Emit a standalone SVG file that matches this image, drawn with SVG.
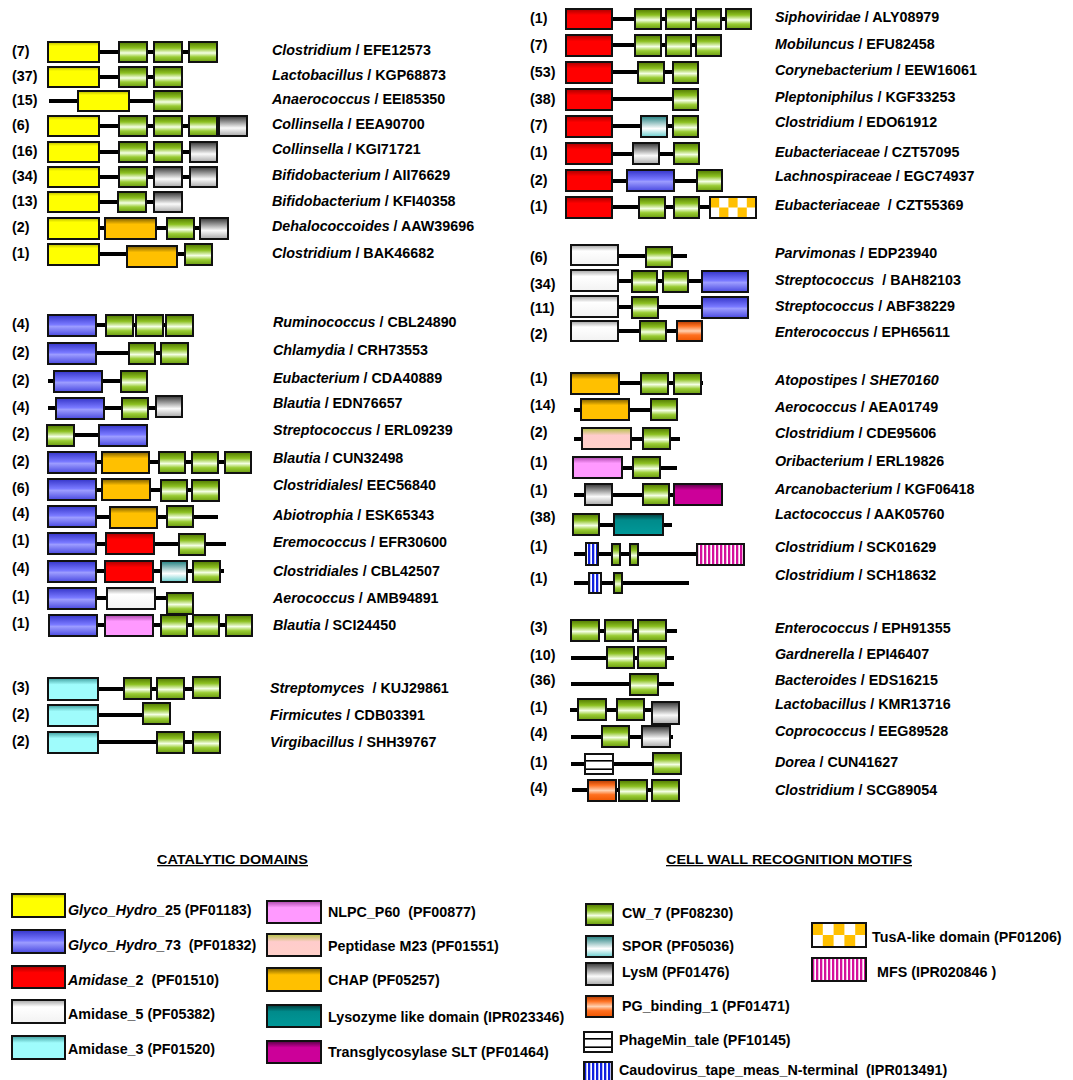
<svg xmlns="http://www.w3.org/2000/svg" width="1073" height="1080" viewBox="0 0 1073 1080">
<defs>
<linearGradient id="gY" x1="0" y1="0" x2="0" y2="1"><stop offset="0" stop-color="#b8b800"/><stop offset="0.2" stop-color="#ffff00"/><stop offset="1" stop-color="#ffff00"/></linearGradient>
<linearGradient id="gB" x1="0" y1="0" x2="0" y2="1"><stop offset="0" stop-color="#3434c8"/><stop offset="0.45" stop-color="#7878ff"/><stop offset="0.55" stop-color="#9c9cff"/><stop offset="1" stop-color="#4848e0"/></linearGradient>
<linearGradient id="gR" x1="0" y1="0" x2="0" y2="1"><stop offset="0" stop-color="#a80000"/><stop offset="0.3" stop-color="#ff0000"/><stop offset="1" stop-color="#ff0000"/></linearGradient>
<linearGradient id="gW" x1="0" y1="0" x2="0" y2="1"><stop offset="0" stop-color="#a0a0a0"/><stop offset="0.3" stop-color="#ffffff"/><stop offset="1" stop-color="#f2f2f2"/></linearGradient>
<linearGradient id="gC" x1="0" y1="0" x2="0" y2="1"><stop offset="0" stop-color="#3c9c9c"/><stop offset="0.3" stop-color="#9ffcfc"/><stop offset="1" stop-color="#9ffcfc"/></linearGradient>
<linearGradient id="gG" x1="0" y1="0" x2="0" y2="1"><stop offset="0" stop-color="#4f7700"/><stop offset="0.3" stop-color="#8cc020"/><stop offset="0.55" stop-color="#f4ffe4"/><stop offset="0.75" stop-color="#99cc33"/><stop offset="1" stop-color="#6a9a10"/></linearGradient>
<linearGradient id="gL" x1="0" y1="0" x2="0" y2="1"><stop offset="0" stop-color="#333333"/><stop offset="0.6" stop-color="#fafafa"/><stop offset="1" stop-color="#a8a8a8"/></linearGradient>
<linearGradient id="gS" x1="0" y1="0" x2="0" y2="1"><stop offset="0" stop-color="#1f7f7f"/><stop offset="0.6" stop-color="#ffffff"/><stop offset="1" stop-color="#66cccc"/></linearGradient>
<linearGradient id="gO" x1="0" y1="0" x2="0" y2="1"><stop offset="0" stop-color="#7a5c00"/><stop offset="0.3" stop-color="#ffc000"/><stop offset="1" stop-color="#ffc000"/></linearGradient>
<linearGradient id="gP" x1="0" y1="0" x2="0" y2="1"><stop offset="0" stop-color="#b0c040"/><stop offset="0.35" stop-color="#ffcccc"/><stop offset="1" stop-color="#ffd0c8"/></linearGradient>
<linearGradient id="gN" x1="0" y1="0" x2="0" y2="1"><stop offset="0" stop-color="#aa44aa"/><stop offset="0.3" stop-color="#ff99ff"/><stop offset="1" stop-color="#ff99ff"/></linearGradient>
<linearGradient id="gT" x1="0" y1="0" x2="0" y2="1"><stop offset="0" stop-color="#003a3a"/><stop offset="0.3" stop-color="#008b8b"/><stop offset="1" stop-color="#009999"/></linearGradient>
<linearGradient id="gM" x1="0" y1="0" x2="0" y2="1"><stop offset="0" stop-color="#550044"/><stop offset="0.3" stop-color="#cc0099"/><stop offset="1" stop-color="#cc0099"/></linearGradient>
<linearGradient id="gPG" x1="0" y1="0" x2="0" y2="1"><stop offset="0" stop-color="#b03800"/><stop offset="0.25" stop-color="#ff7020"/><stop offset="0.5" stop-color="#ffd0b0"/><stop offset="0.7" stop-color="#ff7020"/><stop offset="1" stop-color="#ee5500"/></linearGradient>
<pattern id="pTus" patternUnits="objectBoundingBox" patternContentUnits="objectBoundingBox" width="1" height="1">
<rect x="0" y="0" width="1" height="1" fill="#ffffff"/>
<rect x="0" y="0" width="0.2" height="0.5" fill="#ffc000"/><rect x="0.4" y="0" width="0.2" height="0.5" fill="#ffc000"/><rect x="0.8" y="0" width="0.2" height="0.5" fill="#ffc000"/>
<rect x="0.2" y="0.5" width="0.2" height="0.5" fill="#ffc000"/><rect x="0.6" y="0.5" width="0.2" height="0.5" fill="#ffc000"/>
</pattern>
<pattern id="pMFS" patternUnits="userSpaceOnUse" width="4" height="10"><rect width="4" height="10" fill="#ffffff"/><rect width="2.3" height="10" fill="#d4109c"/></pattern>
<pattern id="pCau" patternUnits="userSpaceOnUse" width="4" height="10"><rect width="4" height="10" fill="#ffffff"/><rect width="2.3" height="10" fill="#1020e0"/></pattern>
<pattern id="pPh" patternUnits="objectBoundingBox" patternContentUnits="objectBoundingBox" width="1" height="1"><rect width="1" height="1" fill="#ffffff"/><rect x="0" y="0.3" width="1" height="0.08" fill="#000"/><rect x="0" y="0.72" width="1" height="0.08" fill="#000"/></pattern>
</defs>
<style>
.ln{stroke:#000;stroke-width:4}
g rect{stroke:#111;stroke-width:2}
.Y{fill:url(#gY)} .B{fill:url(#gB)} .R{fill:url(#gR)} .W{fill:url(#gW)} .C{fill:url(#gC)} .G{fill:url(#gG)} .L{fill:url(#gL)} .S{fill:url(#gS)} .O{fill:url(#gO)} .P{fill:url(#gP)} .N{fill:url(#gN)} .T{fill:url(#gT)} .M{fill:url(#gM)} .PG{fill:url(#gPG)}
.Tu{fill:url(#pTus)} .MF{fill:url(#pMFS)} .Ca{fill:url(#pCau)} .Ph{fill:url(#pPh)}
text{font-family:"Liberation Sans",Arial,sans-serif;font-weight:bold;font-size:14.3px;fill:#000;white-space:pre}
.i{font-style:italic}
.hd{text-decoration:underline;font-size:13px}
</style>
<rect x="0" y="0" width="1073" height="1080" fill="#ffffff"/>

<!-- Yellow group -->
<g id="y1"><text x="12" y="56">(7)</text><line class="ln" x1="99" y1="52" x2="217" y2="52"/><rect class="Y" x="48" y="42" width="51" height="20"/><rect class="G" x="119" y="42" width="28" height="20"/><rect class="G" x="154" y="42" width="28" height="20"/><rect class="G" x="189" y="42" width="28" height="20"/><text x="272" y="55"><tspan class="i">Clostridium</tspan> / EFE12573</text></g>
<g id="y2"><text x="12" y="81">(37)</text><line class="ln" x1="99" y1="77" x2="182" y2="77"/><rect class="Y" x="48" y="67" width="51" height="20"/><rect class="G" x="119" y="67" width="28" height="20"/><rect class="G" x="154" y="67" width="28" height="20"/><text x="272" y="80"><tspan class="i">Lactobacillus</tspan> / KGP68873</text></g>
<g id="y3"><text x="12" y="105">(15)</text><line class="ln" x1="49" y1="101" x2="182" y2="101"/><rect class="Y" x="78" y="91" width="51" height="20"/><rect class="G" x="154" y="91" width="28" height="20"/><text x="272" y="104"><tspan class="i">Anaerococcus</tspan> / EEI85350</text></g>
<g id="y4"><text x="12" y="130">(6)</text><line class="ln" x1="99" y1="126" x2="247" y2="126"/><rect class="Y" x="48" y="116" width="51" height="20"/><rect class="G" x="119" y="116" width="28" height="20"/><rect class="G" x="154" y="116" width="28" height="20"/><rect class="G" x="189" y="116" width="28" height="20"/><rect class="L" x="219" y="116" width="28" height="20"/><text x="272" y="129"><tspan class="i">Collinsella</tspan> / EEA90700</text></g>
<g id="y5"><text x="12" y="156">(16)</text><line class="ln" x1="99" y1="152" x2="217" y2="152"/><rect class="Y" x="48" y="142" width="51" height="20"/><rect class="G" x="119" y="142" width="28" height="20"/><rect class="G" x="154" y="142" width="28" height="20"/><rect class="L" x="190" y="142" width="27" height="20"/><text x="272" y="154"><tspan class="i">Collinsella</tspan> / KGI71721</text></g>
<g id="y6"><text x="12" y="181">(34)</text><line class="ln" x1="99" y1="177" x2="217" y2="177"/><rect class="Y" x="48" y="167" width="51" height="20"/><rect class="G" x="119" y="167" width="28" height="20"/><rect class="L" x="154" y="167" width="28" height="20"/><rect class="L" x="190" y="167" width="27" height="20"/><text x="272" y="180"><tspan class="i">Bifidobacterium</tspan> / AII76629</text></g>
<g id="y7"><text x="12" y="206">(13)</text><line class="ln" x1="99" y1="202" x2="182" y2="202"/><rect class="Y" x="48" y="192" width="51" height="20"/><rect class="G" x="118" y="192" width="28" height="20"/><rect class="L" x="154" y="192" width="28" height="20"/><text x="272" y="206"><tspan class="i">Bifidobacterium</tspan> / KFI40358</text></g>
<g id="y8"><text x="12" y="232">(2)</text><line class="ln" x1="99" y1="228" x2="228" y2="228"/><rect class="Y" x="48" y="218" width="51" height="21"/><rect class="O" x="105" y="218" width="51" height="21"/><rect class="G" x="167" y="218" width="27" height="21"/><rect class="L" x="200" y="218" width="28" height="21"/><text x="272" y="231"><tspan class="i">Dehalococcoides</tspan> / AAW39696</text></g>
<g id="y9"><text x="12" y="258">(1)</text><line class="ln" x1="99" y1="254" x2="212" y2="254"/><rect class="Y" x="48" y="244" width="51" height="21"/><rect class="O" x="127" y="246" width="50" height="21"/><rect class="G" x="185" y="244" width="27" height="21"/><text x="272" y="258"><tspan class="i">Clostridium</tspan> / BAK46682</text></g>

<!-- Blue group -->
<g id="b1"><text x="12" y="329">(4)</text><line class="ln" x1="96" y1="325" x2="193" y2="325"/><rect class="B" x="48" y="315" width="48" height="21"/><rect class="G" x="106" y="315" width="27" height="21"/><rect class="G" x="136" y="315" width="27" height="21"/><rect class="G" x="166" y="315" width="27" height="21"/><text x="273" y="327"><tspan class="i">Ruminococcus</tspan> / CBL24890</text></g>
<g id="b2"><text x="12" y="357">(2)</text><line class="ln" x1="96" y1="353" x2="188" y2="353"/><rect class="B" x="48" y="343" width="48" height="21"/><rect class="G" x="129" y="343" width="26" height="21"/><rect class="G" x="161" y="343" width="27" height="21"/><text x="273" y="355"><tspan class="i">Chlamydia</tspan> / CRH73553</text></g>
<g id="b3"><text x="12" y="385">(2)</text><line class="ln" x1="48" y1="381" x2="147" y2="381"/><rect class="B" x="54" y="371" width="48" height="21"/><rect class="G" x="121" y="371" width="26" height="21"/><text x="273" y="383"><tspan class="i">Eubacterium</tspan> / CDA40889</text></g>
<g id="b4"><text x="12" y="412">(4)</text><line class="ln" x1="48" y1="408" x2="182" y2="408"/><rect class="B" x="56" y="398" width="48" height="21"/><rect class="G" x="122" y="398" width="26" height="21"/><rect class="L" x="156" y="396" width="26" height="21"/><text x="273" y="408"><tspan class="i">Blautia</tspan> / EDN76657</text></g>
<g id="b5"><text x="12" y="438">(2)</text><line class="ln" x1="74" y1="435" x2="99" y2="435"/><rect class="G" x="47" y="425" width="27" height="21"/><rect class="B" x="99" y="425" width="48" height="21"/><text x="273" y="435"><tspan class="i">Streptococcus</tspan> / ERL09239</text></g>
<g id="b6"><text x="12" y="466">(2)</text><line class="ln" x1="96" y1="462" x2="251" y2="462"/><rect class="B" x="48" y="452" width="48" height="21"/><rect class="O" x="102" y="452" width="47" height="21"/><rect class="G" x="159" y="452" width="26" height="21"/><rect class="G" x="192" y="452" width="26" height="21"/><rect class="G" x="225" y="452" width="26" height="21"/><text x="273" y="463"><tspan class="i">Blautia</tspan> / CUN32498</text></g>
<g id="b7"><text x="12" y="493">(6)</text><line class="ln" x1="96" y1="490" x2="219" y2="490"/><rect class="B" x="48" y="479" width="48" height="21"/><rect class="O" x="102" y="479" width="48" height="21"/><rect class="G" x="161" y="480" width="26" height="21"/><rect class="G" x="192" y="480" width="27" height="21"/><text x="273" y="490"><tspan class="i">Clostridiales</tspan>/ EEC56840</text></g>
<g id="b8"><text x="12" y="518">(4)</text><line class="ln" x1="96" y1="517" x2="218" y2="517"/><rect class="B" x="48" y="506" width="48" height="21"/><rect class="O" x="110" y="507" width="47" height="21"/><rect class="G" x="167" y="506" width="26" height="21"/><text x="273" y="520"><tspan class="i">Abiotrophia</tspan> / ESK65343</text></g>
<g id="b9"><text x="12" y="545">(1)</text><line class="ln" x1="96" y1="544" x2="226" y2="544"/><rect class="B" x="48" y="533" width="48" height="21"/><rect class="R" x="106" y="533" width="48" height="21"/><rect class="G" x="179" y="534" width="26" height="21"/><text x="273" y="547"><tspan class="i">Eremococcus</tspan> / EFR30600</text></g>
<g id="b10"><text x="12" y="573">(4)</text><line class="ln" x1="96" y1="571" x2="224" y2="571"/><rect class="B" x="48" y="561" width="48" height="21"/><rect class="R" x="105" y="561" width="48" height="21"/><rect class="S" x="161" y="561" width="26" height="21"/><rect class="G" x="193" y="561" width="27" height="21"/><text x="273" y="576"><tspan class="i">Clostridiales</tspan> / CBL42507</text></g>
<g id="b11"><text x="12" y="601">(1)</text><line class="ln" x1="96" y1="598" x2="167" y2="598"/><rect class="B" x="48" y="588" width="48" height="21"/><rect class="W" x="107" y="588" width="48" height="21"/><rect class="G" x="167" y="593" width="26" height="21"/><text x="273" y="603"><tspan class="i">Aerococcus</tspan> / AMB94891</text></g>
<g id="b12"><text x="12" y="628">(1)</text><line class="ln" x1="97" y1="625" x2="252" y2="625"/><rect class="B" x="49" y="615" width="48" height="21"/><rect class="N" x="105" y="615" width="48" height="21"/><rect class="G" x="161" y="615" width="26" height="21"/><rect class="G" x="193" y="615" width="26" height="21"/><rect class="G" x="226" y="615" width="26" height="21"/><text x="273" y="630"><tspan class="i">Blautia</tspan> / SCI24450</text></g>

<!-- Cyan group -->
<g id="c1"><text x="12" y="692">(3)</text><line class="ln" x1="98" y1="689" x2="220" y2="689"/><rect class="C" x="48" y="678" width="50" height="22"/><rect class="G" x="124" y="678" width="27" height="21"/><rect class="G" x="157" y="678" width="27" height="21"/><rect class="G" x="193" y="677" width="27" height="21"/><text x="270" y="693"><tspan class="i">Streptomyces</tspan>  / KUJ29861</text></g>
<g id="c2"><text x="12" y="719">(2)</text><line class="ln" x1="98" y1="715" x2="143" y2="715"/><rect class="C" x="48" y="705" width="50" height="21"/><rect class="G" x="143" y="703" width="27" height="21"/><text x="270" y="720"><tspan class="i">Firmicutes</tspan> / CDB03391</text></g>
<g id="c3"><text x="12" y="746">(2)</text><line class="ln" x1="98" y1="742" x2="220" y2="742"/><rect class="C" x="48" y="732" width="50" height="21"/><rect class="G" x="157" y="732" width="27" height="21"/><rect class="G" x="193" y="732" width="27" height="21"/><text x="270" y="747"><tspan class="i">Virgibacillus</tspan> / SHH39767</text></g>

<!-- Right: red group -->
<g id="r1"><text x="530" y="23">(1)</text><line class="ln" x1="612" y1="19" x2="751" y2="19"/><rect class="R" x="566" y="9" width="46" height="20"/><rect class="G" x="635" y="9" width="26" height="20"/><rect class="G" x="666" y="9" width="25" height="20"/><rect class="G" x="696" y="9" width="25" height="20"/><rect class="G" x="726" y="9" width="25" height="20"/><text x="775" y="22"><tspan class="i">Siphoviridae</tspan> / ALY08979</text></g>
<g id="r2"><text x="530" y="50">(7)</text><line class="ln" x1="612" y1="45" x2="721" y2="45"/><rect class="R" x="566" y="35" width="46" height="21"/><rect class="G" x="635" y="35" width="26" height="21"/><rect class="G" x="666" y="35" width="25" height="21"/><rect class="G" x="696" y="35" width="25" height="21"/><text x="775" y="49"><tspan class="i">Mobiluncus</tspan> / EFU82458</text></g>
<g id="r3"><text x="530" y="77">(53)</text><line class="ln" x1="612" y1="72" x2="698" y2="72"/><rect class="R" x="566" y="62" width="46" height="21"/><rect class="G" x="638" y="62" width="26" height="21"/><rect class="G" x="673" y="62" width="25" height="21"/><text x="775" y="75"><tspan class="i">Corynebacterium</tspan> / EEW16061</text></g>
<g id="r4"><text x="530" y="104">(38)</text><line class="ln" x1="612" y1="99" x2="673" y2="99"/><rect class="R" x="566" y="89" width="46" height="21"/><rect class="G" x="673" y="89" width="25" height="21"/><text x="775" y="102"><tspan class="i">Pleptoniphilus</tspan> / KGF33253</text></g>
<g id="r5"><text x="530" y="130">(7)</text><line class="ln" x1="612" y1="126" x2="698" y2="126"/><rect class="R" x="566" y="116" width="46" height="21"/><rect class="S" x="641" y="116" width="26" height="21"/><rect class="G" x="673" y="116" width="25" height="21"/><text x="775" y="127"><tspan class="i">Clostridium</tspan> / EDO61912</text></g>
<g id="r6"><text x="530" y="157">(1)</text><line class="ln" x1="612" y1="154" x2="674" y2="154"/><rect class="R" x="566" y="143" width="46" height="21"/><rect class="L" x="633" y="143" width="26" height="21"/><rect class="G" x="674" y="143" width="25" height="21"/><text x="775" y="157"><tspan class="i">Eubacteriaceae</tspan> / CZT57095</text></g>
<g id="r7"><text x="530" y="185">(2)</text><line class="ln" x1="612" y1="181" x2="697" y2="181"/><rect class="R" x="566" y="170" width="46" height="21"/><rect class="B" x="627" y="170" width="47" height="21"/><rect class="G" x="697" y="170" width="25" height="21"/><text x="775" y="181"><tspan class="i">Lachnospiraceae</tspan> / EGC74937</text></g>
<g id="r8"><text x="530" y="211">(1)</text><line class="ln" x1="612" y1="207" x2="710" y2="207"/><rect class="R" x="566" y="197" width="46" height="21"/><rect class="G" x="639" y="197" width="26" height="21"/><rect class="G" x="674" y="197" width="25" height="21"/><rect class="Tu" x="710" y="197" width="46" height="21"/><text x="775" y="210"><tspan class="i">Eubacteriaceae</tspan>  / CZT55369</text></g>

<!-- Right: white group -->
<g id="w1"><text x="530" y="262">(6)</text><line class="ln" x1="618" y1="256" x2="687" y2="256"/><rect class="W" x="571" y="245" width="47" height="20"/><rect class="G" x="646" y="247" width="26" height="20"/><text x="775" y="258"><tspan class="i">Parvimonas</tspan> / EDP23940</text></g>
<g id="w2"><text x="530" y="289">(34)</text><line class="ln" x1="618" y1="281" x2="702" y2="281"/><rect class="W" x="571" y="270" width="47" height="21"/><rect class="G" x="632" y="271" width="25" height="21"/><rect class="G" x="663" y="271" width="25" height="21"/><rect class="B" x="702" y="271" width="46" height="21"/><text x="775" y="285"><tspan class="i">Streptococcus</tspan>  / BAH82103</text></g>
<g id="w3"><text x="530" y="313">(11)</text><line class="ln" x1="618" y1="307" x2="702" y2="307"/><rect class="W" x="571" y="296" width="47" height="21"/><rect class="G" x="632" y="297" width="26" height="21"/><rect class="B" x="702" y="297" width="46" height="21"/><text x="775" y="311"><tspan class="i">Streptococcus</tspan> / ABF38229</text></g>
<g id="w4"><text x="530" y="339">(2)</text><line class="ln" x1="618" y1="331" x2="677" y2="331"/><rect class="W" x="571" y="321" width="47" height="20"/><rect class="G" x="640" y="321" width="26" height="20"/><rect class="PG" x="677" y="321" width="25" height="20"/><text x="775" y="337"><tspan class="i">Enterococcus</tspan> / EPH65611</text></g>

<!-- Right: mixed group -->
<g id="o1"><text x="530" y="383">(1)</text><line class="ln" x1="619" y1="383" x2="703" y2="383"/><rect class="O" x="571" y="373" width="48" height="21"/><rect class="G" x="641" y="373" width="27" height="21"/><rect class="G" x="674" y="373" width="27" height="21"/><text x="775" y="385"><tspan class="i">Atopostipes</tspan> / <tspan class="i">SHE70160</tspan></text></g>
<g id="o2"><text x="530" y="410">(14)</text><line class="ln" x1="574" y1="410" x2="651" y2="410"/><rect class="O" x="581" y="399" width="48" height="21"/><rect class="G" x="651" y="399" width="26" height="21"/><text x="775" y="412"><tspan class="i">Aerococcus</tspan> / AEA01749</text></g>
<g id="o3"><text x="530" y="437">(2)</text><line class="ln" x1="574" y1="439" x2="680" y2="439"/><rect class="P" x="582" y="428" width="49" height="21"/><rect class="G" x="643" y="428" width="27" height="21"/><text x="775" y="438"><tspan class="i">Clostridium</tspan> / CDE95606</text></g>
<g id="o4"><text x="530" y="467">(1)</text><line class="ln" x1="622" y1="468" x2="677" y2="468"/><rect class="N" x="573" y="457" width="49" height="21"/><rect class="G" x="633" y="457" width="27" height="21"/><text x="775" y="466"><tspan class="i">Oribacterium</tspan> / ERL19826</text></g>
<g id="o5"><text x="530" y="495">(1)</text><line class="ln" x1="574" y1="495" x2="674" y2="495"/><rect class="L" x="585" y="484" width="27" height="21"/><rect class="G" x="643" y="484" width="26" height="21"/><rect class="M" x="674" y="484" width="48" height="21"/><text x="775" y="494"><tspan class="i">Arcanobacterium</tspan> / KGF06418</text></g>
<g id="o6"><text x="530" y="522">(38)</text><line class="ln" x1="599" y1="525" x2="672" y2="525"/><rect class="G" x="573" y="514" width="26" height="21"/><rect class="T" x="614" y="514" width="49" height="21"/><text x="775" y="519"><tspan class="i">Lactococcus</tspan> / AAK05760</text></g>
<g id="o7"><text x="530" y="551">(1)</text><line class="ln" x1="574" y1="554" x2="697" y2="554"/><rect class="Ca" x="586" y="543" width="12" height="22"/><rect class="G" x="612" y="544" width="8" height="21"/><rect class="G" x="630" y="544" width="8" height="21"/><rect class="MF" x="697" y="544" width="47" height="21"/><text x="775" y="552"><tspan class="i">Clostridium</tspan> / SCK01629</text></g>
<g id="o8"><text x="530" y="583">(1)</text><line class="ln" x1="574" y1="583" x2="689" y2="583"/><rect class="Ca" x="589" y="573" width="12" height="20"/><rect class="G" x="614" y="573" width="8" height="20"/><text x="775" y="580"><tspan class="i">Clostridium</tspan> / SCH18632</text></g>

<!-- Right: green group -->
<g id="g1"><text x="530" y="632">(3)</text><line class="ln" x1="599" y1="631" x2="677" y2="631"/><rect class="G" x="571" y="620" width="28" height="21"/><rect class="G" x="605" y="620" width="28" height="21"/><rect class="G" x="638" y="620" width="28" height="21"/><text x="775" y="633"><tspan class="i">Enterococcus</tspan> / EPH91355</text></g>
<g id="g2"><text x="530" y="660">(10)</text><line class="ln" x1="571" y1="658" x2="674" y2="658"/><rect class="G" x="607" y="647" width="27" height="21"/><rect class="G" x="638" y="647" width="28" height="21"/><text x="775" y="659"><tspan class="i">Gardnerella</tspan> / EPI46407</text></g>
<g id="g3"><text x="530" y="685">(36)</text><line class="ln" x1="571" y1="684" x2="674" y2="684"/><rect class="G" x="630" y="674" width="28" height="21"/><text x="775" y="685"><tspan class="i">Bacteroides</tspan> / EDS16215</text></g>
<g id="g4"><text x="530" y="712">(1)</text><line class="ln" x1="570" y1="710" x2="652" y2="710"/><rect class="G" x="578" y="699" width="28" height="21"/><rect class="G" x="617" y="699" width="27" height="21"/><rect class="L" x="652" y="702" width="27" height="22"/><text x="775" y="709"><tspan class="i">Lactobacillus</tspan> / KMR13716</text></g>
<g id="g5"><text x="530" y="738">(4)</text><line class="ln" x1="571" y1="737" x2="673" y2="737"/><rect class="G" x="602" y="726" width="27" height="21"/><rect class="L" x="642" y="726" width="28" height="21"/><text x="775" y="736"><tspan class="i">Coprococcus</tspan> / EEG89528</text></g>
<g id="g6"><text x="530" y="767">(1)</text><line class="ln" x1="571" y1="764" x2="653" y2="764"/><rect class="Ph" x="585" y="754" width="28" height="20"/><rect class="G" x="653" y="753" width="28" height="21"/><text x="775" y="767"><tspan class="i">Dorea</tspan> / CUN41627</text></g>
<g id="g7"><text x="530" y="793">(4)</text><line class="ln" x1="572" y1="790" x2="679" y2="790"/><rect class="PG" x="588" y="780" width="28" height="21"/><rect class="G" x="619" y="780" width="28" height="21"/><rect class="G" x="652" y="780" width="27" height="21"/><text x="775" y="795"><tspan class="i">Clostridium</tspan> / SCG89054</text></g>

<!-- Legend -->
<g id="legend-headers">
<text class="hd" x="157" y="864" textLength="151" lengthAdjust="spacingAndGlyphs">CATALYTIC DOMAINS</text>
<text class="hd" x="666" y="864" textLength="246" lengthAdjust="spacingAndGlyphs">CELL WALL RECOGNITION MOTIFS</text>
</g>
<g id="leg-gh25"><rect class="Y" x="12" y="894" width="53" height="23"/><text x="68" y="915"><tspan class="i">Glyco_Hydro_</tspan>25 (PF01183)</text></g>
<g id="leg-gh73"><rect class="B" x="12" y="930" width="53" height="23"/><text x="68" y="950"><tspan class="i">Glyco_Hydro_</tspan>73  (PF01832)</text></g>
<g id="leg-am2"><rect class="R" x="12" y="966" width="53" height="22"/><text x="68" y="985"><tspan class="i">Amidase_</tspan>2  (PF01510)</text></g>
<g id="leg-am5"><rect class="W" x="12" y="1000" width="53" height="23"/><text x="68" y="1019">Amidase_5 (PF05382)</text></g>
<g id="leg-am3"><rect class="C" x="12" y="1036" width="53" height="23"/><text x="68" y="1054">Amidase_3 (PF01520)</text></g>
<g id="leg-nlpc"><rect class="N" x="267" y="901" width="54" height="22"/><text x="328" y="917">NLPC_P60  (PF00877)</text></g>
<g id="leg-m23"><rect class="P" x="267" y="934" width="54" height="22"/><text x="328" y="951">Peptidase M23 (PF01551)</text></g>
<g id="leg-chap"><rect class="O" x="267" y="968" width="54" height="23"/><text x="328" y="985">CHAP (PF05257)</text></g>
<g id="leg-lys"><rect class="T" x="267" y="1005" width="54" height="22"/><text x="328" y="1022">Lysozyme like domain (IPR023346)</text></g>
<g id="leg-slt"><rect class="M" x="267" y="1041" width="54" height="22"/><text x="328" y="1057">Transglycosylase SLT (PF01464)</text></g>
<g id="leg-cw7"><rect class="G" x="586" y="904" width="27" height="21"/><text x="622" y="918">CW_7 (PF08230)</text></g>
<g id="leg-spor"><rect class="S" x="586" y="936" width="27" height="21"/><text x="622" y="951">SPOR (PF05036)</text></g>
<g id="leg-lysm"><rect class="L" x="586" y="963" width="27" height="22"/><text x="622" y="977">LysM (PF01476)</text></g>
<g id="leg-pg"><rect class="PG" x="586" y="996" width="27" height="21"/><text x="622" y="1011">PG_binding_1 (PF01471)</text></g>
<g id="leg-phage"><rect class="Ph" x="584" y="1032" width="28" height="20"/><text x="619" y="1045">PhageMin_tale (PF10145)</text></g>
<g id="leg-cau"><rect class="Ca" x="584" y="1062" width="28" height="22"/><text x="619" y="1075">Caudovirus_tape_meas_N-terminal  (IPR013491)</text></g>
<g id="leg-tusa"><rect class="Tu" x="812" y="923" width="54" height="24"/><text x="872" y="942">TusA-like domain (PF01206)</text></g>
<g id="leg-mfs"><rect class="MF" x="812" y="958" width="54" height="23"/><text x="877" y="977">MFS (IPR020846 )</text></g>
</svg>
